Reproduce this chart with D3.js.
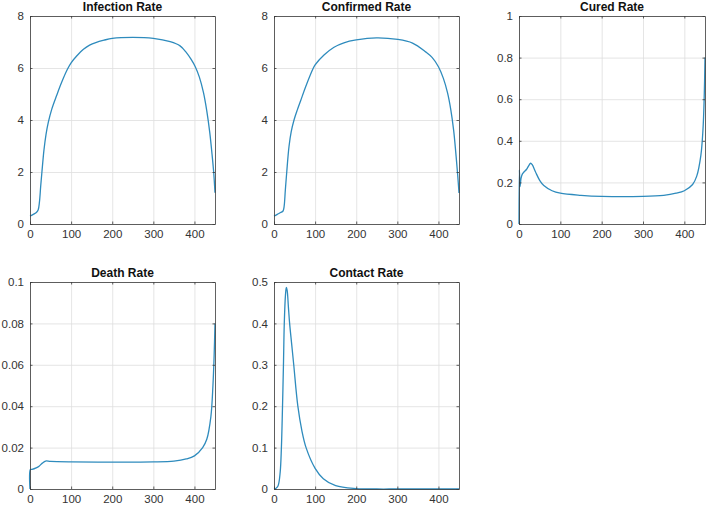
<!DOCTYPE html>
<html><head><meta charset="utf-8">
<script src="https://cdn.jsdelivr.net/npm/d3@7/dist/d3.min.js"></script>
<style>body{margin:0;background:#fff}svg{display:block}</style>
</head><body>
<svg id="chart" width="708" height="509"></svg>
<script>
// ---- data ----
const titles = ["Infection Rate", "Confirmed Rate", "Cured Rate", "Death Rate", "Contact Rate"];
const xTicks = [0, 100, 200, 300, 400];
const xDomain = [0, 450];

const infectionT = [0, 8, 16, 20, 23, 26, 29, 34, 39, 44.6, 53, 65, 77, 91, 100, 113, 130, 145, 160, 180, 200, 250, 300, 341, 365, 380, 392, 402, 412, 422, 430, 437, 443, 447, 450];
const infectionV = [0.3, 0.37, 0.45, 0.55, 0.85, 1.45, 2.0, 2.85, 3.45, 3.92, 4.42, 4.95, 5.45, 5.95, 6.2, 6.45, 6.72, 6.88, 6.98, 7.07, 7.14, 7.18, 7.14, 7.01, 6.85, 6.6, 6.33, 6.05, 5.65, 5.05, 4.35, 3.55, 2.65, 1.95, 1.2];

const confirmedT = [0, 8, 16, 22, 24.5, 27.6, 31, 36.5, 42, 48.7, 57, 65, 77, 95.7, 100, 121.6, 146, 170, 200, 249, 301, 337, 369, 385, 400, 412, 422, 430, 437, 443, 447, 450];
const confirmedV = [0.3, 0.37, 0.44, 0.5, 0.66, 1.31, 2.0, 2.98, 3.56, 4.0, 4.4, 4.75, 5.28, 6.0, 6.12, 6.5, 6.8, 6.97, 7.08, 7.16, 7.1, 6.96, 6.62, 6.4, 6.05, 5.6, 5.05, 4.4, 3.6, 2.6, 1.85, 1.19];

const curedT = [0, 1, 2.5, 5, 8, 12, 18, 24, 28, 32, 40, 50, 60, 80, 100, 150, 200, 300, 350, 380, 400, 420, 430, 440, 445, 448, 450];
const curedV = [0, 0.26, 0.18, 0.22, 0.24, 0.25, 0.262, 0.282, 0.292, 0.285, 0.25, 0.21, 0.185, 0.16, 0.148, 0.138, 0.133, 0.133, 0.138, 0.148, 0.16, 0.19, 0.23, 0.33, 0.45, 0.6, 0.8];

const deathT = [0, 1, 5, 15, 22, 30, 38, 50, 100, 200, 300, 350, 380, 400, 420, 430, 440, 445, 448, 450];
const deathV = [0, 0.0094, 0.0095, 0.0102, 0.011, 0.0125, 0.0135, 0.0133, 0.0131, 0.013, 0.0131, 0.0135, 0.0145, 0.016, 0.02, 0.024, 0.035, 0.05, 0.065, 0.08];

const contactT = [0, 5, 10, 15, 18, 20, 23, 25, 28, 30, 32, 35, 38, 43, 48, 58, 68, 78, 100, 120, 150, 200, 250, 300, 450];
const contactV = [0, 0.002, 0.008, 0.04, 0.1, 0.17, 0.3, 0.4, 0.47, 0.487, 0.48, 0.44, 0.4, 0.35, 0.3, 0.2, 0.14, 0.1, 0.05, 0.025, 0.008, 0.001, 0, 0, 0];

const yTicks = [
  [0, 2, 4, 6, 8],
  [0, 2, 4, 6, 8],
  [0, 0.2, 0.4, 0.6, 0.8, 1],
  [0, 0.02, 0.04, 0.06, 0.08, 0.1],
  [0, 0.1, 0.2, 0.3, 0.4, 0.5]
];
const series = [
  [infectionT, infectionV],
  [confirmedT, confirmedV],
  [curedT, curedV],
  [deathT, deathV],
  [contactT, contactV]
];

// ---- layout ----
const boxes = [
  {x0: 30, x1: 215, y0: 16, y1: 224},
  {x0: 274, x1: 459, y0: 16, y1: 224},
  {x0: 519, x1: 705, y0: 16, y1: 224},
  {x0: 30, x1: 215, y0: 282, y1: 489},
  {x0: 274, x1: 459, y0: 282, y1: 489}
];
const lineColor = "#2e8bbd";
const axisColor = "#3a3a3a";
const gridColor = "#dedede";
const font = "'Liberation Sans', Arial, Helvetica, sans-serif";
const fmt = v => String(+v.toFixed(3));

const svg = d3.select("#chart");

boxes.forEach((b, i) => {
  const ticks = yTicks[i];
  const x = d3.scaleLinear().domain(xDomain).range([b.x0, b.x1]);
  const y = d3.scaleLinear().domain([ticks[0], ticks[ticks.length - 1]]).range([b.y1, b.y0]);
  const g = svg.append("g");
  const w = b.x1 - b.x0, h = b.y1 - b.y0;

  // grid
  g.append("g").attr("transform", `translate(0,${b.y1})`)
    .call(d3.axisBottom(x).tickValues(xTicks).tickSize(-h).tickFormat(""))
    .call(s => s.select(".domain").remove())
    .call(s => s.selectAll("line").attr("stroke", gridColor).attr("stroke-width", 0.8));
  g.append("g").attr("transform", `translate(${b.x0},0)`)
    .call(d3.axisLeft(y).tickValues(ticks).tickSize(-w).tickFormat(""))
    .call(s => s.select(".domain").remove())
    .call(s => s.selectAll("line").attr("stroke", gridColor).attr("stroke-width", 0.8));

  // curve
  const [T, V] = series[i];
  const pts = T.map((t, k) => [t, V[k]]);
  g.append("path").datum(pts)
    .attr("fill", "none").attr("stroke", lineColor).attr("stroke-width", 1.3)
    .attr("d", d3.line().x(d => x(d[0])).y(d => Math.min(b.y1, y(d[1]))).curve(d3.curveCatmullRom.alpha(0.5)));

  // axes (ticks inward on all sides)
  const styleAxis = s => {
    s.select(".domain").attr("stroke", axisColor).attr("stroke-width", 0.8);
    s.selectAll(".tick line").attr("stroke", axisColor).attr("stroke-width", 0.8);
    s.selectAll("text").attr("fill", "#333").style("font-family", font).style("font-size", "11.5px");
  };
  g.append("g").attr("transform", `translate(0,${b.y1})`)
    .call(d3.axisBottom(x).tickValues(xTicks).tickSizeInner(-2.5).tickSizeOuter(0).tickPadding(6).tickFormat(fmt))
    .call(styleAxis);
  g.append("g").attr("transform", `translate(${b.x0},0)`)
    .call(d3.axisLeft(y).tickValues(ticks).tickSizeInner(-2.5).tickSizeOuter(0).tickPadding(6).tickFormat(fmt))
    .call(styleAxis);
  g.append("g").attr("transform", `translate(0,${b.y0})`)
    .call(d3.axisTop(x).tickValues(xTicks).tickSizeInner(-2.5).tickSizeOuter(0).tickFormat(""))
    .call(styleAxis);
  g.append("g").attr("transform", `translate(${b.x1},0)`)
    .call(d3.axisRight(y).tickValues(ticks).tickSizeInner(-2.5).tickSizeOuter(0).tickFormat(""))
    .call(styleAxis);

  // title
  g.append("text").attr("x", (b.x0 + b.x1) / 2).attr("y", b.y0 - 5)
    .attr("text-anchor", "middle").attr("fill", "#111")
    .style("font-family", font).style("font-weight", "bold").style("font-size", "12px")
    .text(titles[i]);
});
</script>
</body></html>
